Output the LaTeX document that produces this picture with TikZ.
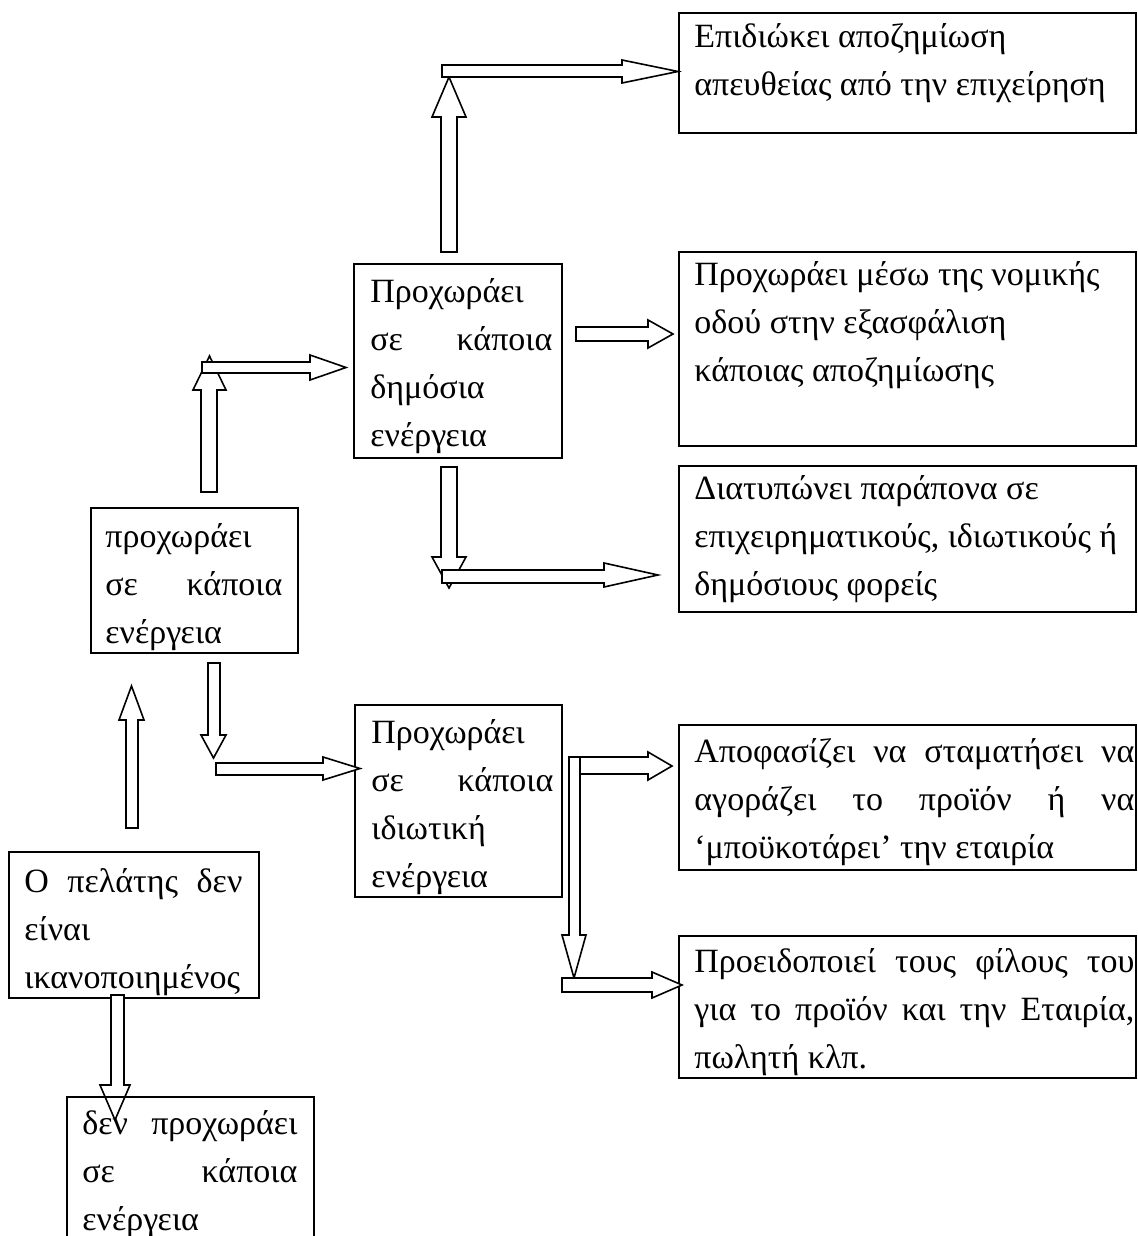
\documentclass[tikz,border=0pt]{standalone}
\usepackage{fontspec}
\setmainfont{Liberation Serif}
\usetikzlibrary{fit,calc}
\newlength\px
\setlength\px{0.5pt}
% justified line: stretch the spaces between words to the full width
\newcommand\jline[1]{\makebox[\linewidth][s]{#1}}
% horizontal block arrow: start x, head base x, tip x, shaft top, shaft bottom, head top, head bottom
\newcommand\hblock[7]{%
  \filldraw[blk] (#1,#4) -- (#2,#4) -- (#2,#6) -- (#3,{(#6+#7)/2}) -- (#2,#7) -- (#2,#5) -- (#1,#5) -- cycle;}
% vertical block arrow: start y, head base y, tip y, shaft left, shaft right, head left, head right
\newcommand\vblock[7]{%
  \filldraw[blk] (#4,#1) -- (#4,#2) -- (#6,#2) -- ({(#6+#7)/2},#3) -- (#7,#2) -- (#5,#2) -- (#5,#1) -- cycle;}
\begin{document}
\begin{tikzpicture}[x=0.5pt,y=-0.5pt,
  box/.style={draw, line width=1pt, inner sep=0pt},
  txt/.style={anchor=base west, inner sep=0pt, font=\fontsize{17}{24}\selectfont},
  blk/.style={draw, fill=white, line width=0.8pt, line join=miter}]
\useasboundingbox (0,0) rectangle (1137,1236);
\clip (0,0) rectangle (1137,1236);

% ---- boxes ----
\node[box, fit={(679,13) (1136,133)}]   (b1) {};
\node[box, fit={(679,252) (1136,446)}]  (b2) {};
\node[box, fit={(679,466) (1136,612)}]  (b3) {};
\node[box, fit={(354,264) (562,458)}]   (b4) {};
\node[box, fit={(91,508) (298,653)}]    (b5) {};
\node[box, fit={(355,705) (562,897)}]   (b6) {};
\node[box, fit={(679,725) (1136,870)}]  (b7) {};
\node[box, fit={(679,936) (1136,1078)}] (b8) {};
\node[box, fit={(9,852) (259,998)}]     (b9) {};

% ---- texts ----
\node[txt] (t1) at ($(b1.north west)+(16,36)$) {\parbox[t]{440\px}{%
  Επιδιώκει αποζημίωση\\ απευθείας από την επιχείρηση}};
\node[txt] (t2) at ($(b2.north west)+(16,34)$) {\parbox[t]{440\px}{%
  Προχωράει μέσω της νομικής\\ οδού στην εξασφάλιση\\ κάποιας αποζημίωσης}};
\node[txt] (t3) at ($(b3.north west)+(16,34)$) {\parbox[t]{440\px}{%
  Διατυπώνει παράπονα σε\\ επιχειρηματικούς, ιδιωτικούς ή\\ δημόσιους φορείς}};
\node[txt] (t4) at ($(b4.north west)+(17,39)$) {\parbox[t]{182\px}{%
  Προχωράει\\ \jline{σε κάποια}\\ δημόσια\\ ενέργεια}};
\node[txt] (t5) at ($(b5.north west)+(15,40)$) {\parbox[t]{177\px}{%
  προχωράει\\ \jline{σε κάποια}\\ ενέργεια}};
\node[txt] (t6) at ($(b6.north west)+(17,39)$) {\parbox[t]{182\px}{%
  Προχωράει\\ \jline{σε κάποια}\\ ιδιωτική\\ ενέργεια}};
\node[txt] (t7) at ($(b7.north west)+(16,38)$) {\parbox[t]{440\px}{%
  \jline{Αποφασίζει να σταματήσει να}\\ \jline{αγοράζει το προϊόν ή να}\\ ‘μποϋκοτάρει’ την εταιρία}};
\node[txt] (t8) at ($(b8.north west)+(16,37)$) {\parbox[t]{440\px}{%
  \jline{Προειδοποιεί τους φίλους του}\\ \jline{για το προϊόν και την Εταιρία,}\\ πωλητή κλπ.}};
\node[txt] (t9) at ($(b9.north west)+(16,41)$) {\parbox[t]{218\px}{%
  \jline{Ο πελάτης δεν}\\ είναι\\ ικανοποιημένος}};

% ---- block arrows ----
% public action: upward, then right to the top box
\vblock{252}{117}{77}{441}{457}{432}{466}
\hblock{442}{622}{678}{65}{77}{60}{83}
% action: upward, then right to the public action
\vblock{492}{390}{356}{201}{217}{193}{226}
\hblock{202}{310}{346}{362}{373}{355}{380}
% public action to legal route
\hblock{576}{648}{673}{327}{341}{320}{348}
% public action: downward, then right to complaints
\vblock{467}{557}{588}{441}{457}{432}{466}
\hblock{442}{604}{658}{570}{583}{563}{587}
% action: downward, then right to the private action
\vblock{663}{735}{758}{208}{220}{201}{226}
\hblock{216}{323}{360}{763}{775}{757}{780}
% dissatisfied customer: upward to action
\vblock{828}{720}{686}{126}{138}{119}{144}
% dissatisfied customer: downward to no action
\vblock{995}{1085}{1120}{111}{124}{100}{130}
% private action: branches to boycott and warning
\vblock{757}{935}{978}{569}{580}{562}{586}
\hblock{580}{648}{672}{757}{774}{752}{780}
\hblock{562}{652}{682}{978}{992}{972}{998}

% ---- box reached from below the customer ----
\node[box, fit={(67,1097) (314,1260)}] (b10) {};
\node[txt] (t10) at ($(b10.north west)+(16,38)$) {\parbox[t]{215\px}{%
  \jline{δεν προχωράει}\\ \jline{σε κάποια}\\ ενέργεια}};
\end{tikzpicture}
\end{document}
